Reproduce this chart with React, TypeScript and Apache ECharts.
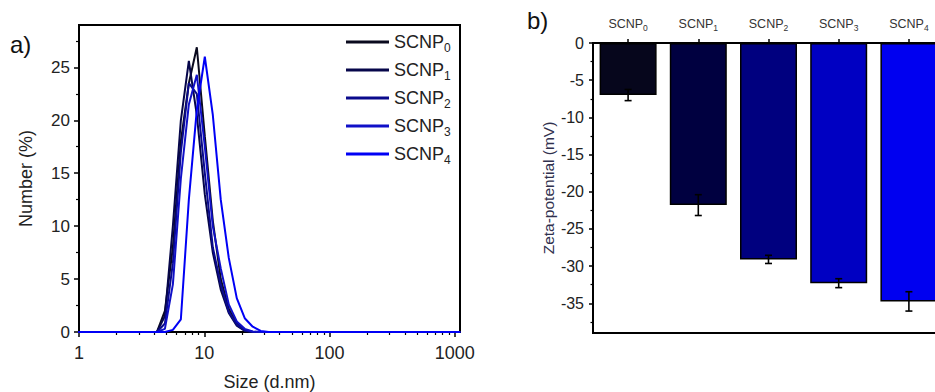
import React, { useEffect, useRef } from 'react';
import * as echarts from 'echarts';

const FONT = "'Liberation Sans', Arial, Helvetica, sans-serif";

// Sample names: base + subscript
const sampleBase = 'SCNP';
const sampleSubs = ['0', '1', '2', '3', '4'];

// (a) DLS number distribution: size bins (d.nm) and Number (%)
const sizes = [0.9649, 3.615, 4.187, 4.849, 5.615, 6.503, 7.531, 8.721, 10.1, 11.7, 13.54, 15.69, 18.17, 21.04, 24.36, 28.21, 32.67, 37.84, 1106];
const scnp0 = [0, 0, 0, 2.0, 8.0, 18.0, 23.5, 26.9, 18.5, 10.5, 5.0, 2.2, 0.8, 0.2, 0, 0, 0, 0, 0];
const scnp1 = [0, 0, 0, 1.5, 10.0, 20.0, 25.6, 20.5, 13.0, 7.5, 4.0, 1.8, 0.6, 0.1, 0, 0, 0, 0, 0];
const scnp2 = [0, 0, 0, 0.8, 6.5, 17.0, 23.5, 22.5, 15.0, 8.0, 4.5, 1.9, 0.7, 0.15, 0, 0, 0, 0, 0];
const scnp3 = [0, 0, 0, 0.3, 4.5, 14.5, 21.5, 24.3, 17.5, 10.0, 6.0, 2.6, 1.0, 0.3, 0.05, 0, 0, 0, 0];
const scnp4 = [0, 0, 0, 0, 0.2, 1.2, 12.5, 21.0, 26.0, 20.5, 12.5, 7.0, 3.2, 1.3, 0.5, 0.1, 0, 0, 0];
const distributions = [scnp0, scnp1, scnp2, scnp3, scnp4];

const lineColors = ['#0a0a1e', '#06064a', '#0a0a8c', '#1010c8', '#0000f5'];
const barColors = ['#06061c', '#000040', '#00007f', '#0000c2', '#0000f0'];

// (b) Zeta potential (mV) mean and error
const zetaMean = [-7.0, -21.8, -29.1, -32.3, -34.75];
const zetaErr = [0.75, 1.4, 0.55, 0.6, 1.3];

// tick values
const sizeTicks = [1, 10, 100, 1000];
const sizeMinorTicks = [2, 3, 4, 5, 6, 7, 8, 9, 20, 30, 40, 50, 60, 70, 80, 90, 200, 300, 400, 500, 600, 700, 800, 900];
const numberTicks = [0, 5, 10, 15, 20, 25];
const numberMinorTicks = [2.5, 7.5, 12.5, 17.5, 22.5, 27.5];
const zetaTicks = [0, -5, -10, -15, -20, -25, -30, -35];
const zetaMinorTicks = [-2.5, -7.5, -12.5, -17.5, -22.5, -27.5, -32.5, -37.5];

const names = sampleSubs.map((s) => sampleBase + s);

export default function App() {
  const ref = useRef<HTMLDivElement>(null);
  useEffect(() => {
    document.body.style.margin = '0';
    const chart = echarts.init(ref.current!, null, { renderer: 'svg' });
    const axisLine = { show: true, onZero: false, lineStyle: { color: '#000', width: 2 } };
    const option: any = {
      animation: false,
      backgroundColor: '#fff',
      textStyle: { fontFamily: FONT },
      grid: [
        { left: 79, top: 25, width: 381, height: 307, show: true, borderColor: '#000', borderWidth: 2, backgroundColor: 'transparent', containLabel: false, outerBoundsMode: 'none' },
        { left: 593, top: 43, width: 351, height: 290, show: true, borderColor: '#000', borderWidth: 2, backgroundColor: 'transparent', containLabel: false, outerBoundsMode: 'none' },
      ],
      xAxis: [
        {
          type: 'log', gridIndex: 0, logBase: 10, min: 1, max: 1100, position: 'bottom',
          axisLine,
          axisTick: { show: true, length: 5, lineStyle: { color: '#000', width: 1.5 }, customValues: sizeTicks },
          axisLabel: { customValues: sizeTicks, fontSize: 18, color: '#222', margin: 12, fontFamily: FONT, formatter: (v: number) => String(v) },
          splitLine: { show: false },
          name: 'Size (d.nm)', nameLocation: 'middle', nameGap: 41,
          nameTextStyle: { fontSize: 18, color: '#222', fontFamily: FONT },
        },
        {
          type: 'category', gridIndex: 1, position: 'top', data: names,
          axisLine,
          axisTick: { show: true, alignWithLabel: true, length: 4, lineStyle: { color: '#000', width: 1.5 } },
          axisLabel: {
            margin: 13,
            interval: 0,
            formatter: (_v: string, i: number) => `{b|${sampleBase}}{s|${sampleSubs[i]}}`,
            rich: {
              b: { fontSize: 12.5, color: '#333', fontFamily: FONT, lineHeight: 13, verticalAlign: 'top' },
              s: { fontSize: 8.5, color: '#333', fontFamily: FONT, lineHeight: 9, padding: [6, 0, 0, 0], verticalAlign: 'top' },
            },
          },
          splitLine: { show: false },
        },
        {
          type: 'log', gridIndex: 0, logBase: 10, min: 1, max: 1100, position: 'bottom',
          axisLine: { show: false },
          axisTick: { show: true, length: 3, lineStyle: { color: '#000', width: 1.2 }, customValues: sizeMinorTicks },
          axisLabel: { show: false },
          splitLine: { show: false },
        },
      ],
      yAxis: [
        {
          type: 'value', gridIndex: 0, min: 0, max: 29, position: 'left',
          axisLine,
          axisTick: { show: true, length: 5, lineStyle: { color: '#000', width: 1.5 }, customValues: numberTicks },
          axisLabel: { customValues: numberTicks, fontSize: 17, color: '#222', margin: 9, fontFamily: FONT },
          splitLine: { show: false },
          name: 'Number (%)', nameLocation: 'middle', nameGap: 44,
          nameTextStyle: { fontSize: 18, color: '#222', fontFamily: FONT },
        },
        {
          type: 'value', gridIndex: 1, min: -39, max: 0, position: 'left',
          axisLine,
          axisTick: { show: true, length: 4, lineStyle: { color: '#000', width: 1.5 }, customValues: zetaTicks },
          axisLabel: { customValues: zetaTicks, fontSize: 16, color: '#222', margin: 9, fontFamily: FONT },
          splitLine: { show: false },
          name: 'Zeta-potential (mV)', nameLocation: 'middle', nameGap: 37,
          nameTextStyle: { fontSize: 15.5, color: '#30304e', fontFamily: FONT },
        },
        {
          type: 'value', gridIndex: 0, min: 0, max: 29, position: 'left',
          axisLine: { show: false },
          axisTick: { show: true, length: 3, lineStyle: { color: '#000', width: 1.2 }, customValues: numberMinorTicks },
          axisLabel: { show: false },
          splitLine: { show: false },
        },
        {
          type: 'value', gridIndex: 1, min: -39, max: 0, position: 'left',
          axisLine: { show: false },
          axisTick: { show: true, length: 2.5, lineStyle: { color: '#000', width: 1.2 }, customValues: zetaMinorTicks },
          axisLabel: { show: false },
          splitLine: { show: false },
        },
      ],
      legend: {
        orient: 'vertical', left: 341, top: 28, itemWidth: 43, itemHeight: 3, itemGap: 7, icon: 'rect',
        data: names,
        formatter: (name: string) => `{b|${sampleBase}}{s|${sampleSubs[names.indexOf(name)]}}`,
        textStyle: {
          rich: {
            b: { fontSize: 18, color: '#222', fontFamily: FONT, lineHeight: 18, verticalAlign: 'top' },
            s: { fontSize: 12, color: '#222', fontFamily: FONT, lineHeight: 12, padding: [9, 0, 0, 0], verticalAlign: 'top' },
          },
        },
      },
      graphic: [
        { type: 'text', left: 10, top: 32, style: { text: 'a)', fontSize: 24, fill: '#111', fontFamily: FONT } },
        { type: 'text', left: 527, top: 8, style: { text: 'b)', fontSize: 24, fill: '#111', fontFamily: FONT } },
      ],
      series: [
        ...distributions.map((vals, k) => ({
          name: names[k],
          type: 'line',
          xAxisIndex: 0,
          yAxisIndex: 0,
          data: sizes.map((s, i) => [s, vals[i]]),
          symbol: 'none',
          showSymbol: false,
          clip: true,
          color: lineColors[k],
          lineStyle: { color: lineColors[k], width: 2 },
          z: 2 + k,
        })),
        {
          type: 'bar',
          xAxisIndex: 1,
          yAxisIndex: 1,
          barWidth: 57,
          data: zetaMean.map((v, i) => ({
            value: v,
            itemStyle: { color: barColors[i], borderColor: '#000', borderWidth: 1.5 },
          })),
          z: 2,
        },
        {
          type: 'custom',
          xAxisIndex: 1,
          yAxisIndex: 1,
          data: zetaMean.map((v, i) => [i, v, zetaErr[i]]),
          encode: { x: 0, y: 1 },
          z: 5,
          renderItem: (_p: any, api: any) => {
            const i = api.value(0);
            const m = api.value(1);
            const e = api.value(2);
            const top = api.coord([i, m + e]);
            const bot = api.coord([i, m - e]);
            const st = { stroke: '#000', lineWidth: 1.6 };
            return {
              type: 'group',
              children: [
                { type: 'line', shape: { x1: top[0], y1: top[1], x2: bot[0], y2: bot[1] }, style: st },
                { type: 'line', shape: { x1: top[0] - 3.5, y1: top[1], x2: top[0] + 3.5, y2: top[1] }, style: st },
                { type: 'line', shape: { x1: bot[0] - 3.5, y1: bot[1], x2: bot[0] + 3.5, y2: bot[1] }, style: st },
              ],
            };
          },
        },
      ],
    };
    chart.setOption(option);
    return () => chart.dispose();
  }, []);
  return (
    <div style={{ width: 935, height: 392, overflow: 'hidden', background: '#fff' }}>
      <div ref={ref} style={{ width: 960, height: 392 }} />
    </div>
  );
}
